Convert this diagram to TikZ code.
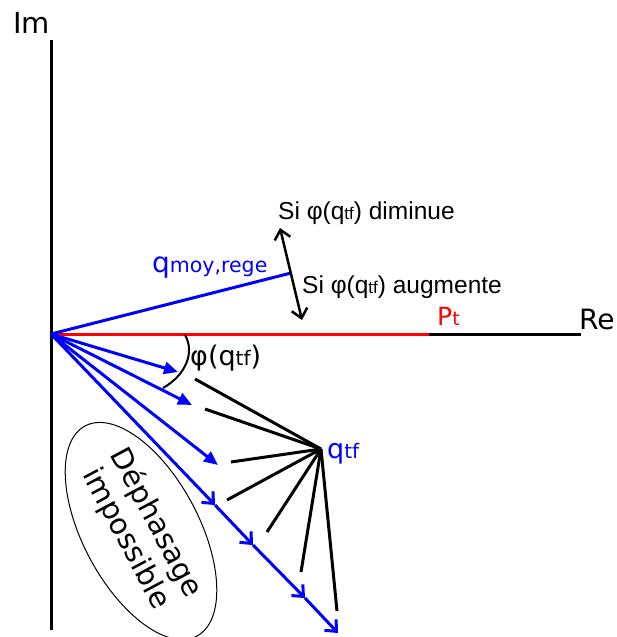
\documentclass[tikz,border=0pt]{standalone}
\usepackage{fontspec}
\setmainfont{DejaVu Sans}
\newfontfamily\arialf{Liberation Sans}
\usetikzlibrary{arrows.meta,shapes.geometric}
\newcommand{\fs}[1]{\fontsize{#1}{#1}\selectfont}
\begin{document}
\begin{tikzpicture}[x=1pt,y=-1pt,
  axisline/.style={line width=3pt},
  vec/.style={blue,line width=3pt},
  filltip/.style={-{Triangle[length=14pt,width=12pt]}},
  barbtip/.style={-{Straight Barb[length=9pt,width=16pt]}},
  proj/.style={black,line width=3pt},
  lbl/.style={inner sep=0pt,anchor=base west},
]
\useasboundingbox (0,0) rectangle (617,637);
% points
\coordinate (O) at (51,334);
\coordinate (ImTop) at (51,40);
\coordinate (ImBot) at (51,630);
\coordinate (PtEnd) at (429,334);
\coordinate (ReEnd) at (581,334);
\coordinate (Qm) at (291,273);
\coordinate (t1) at (178,372);
\coordinate (t2) at (192,405);
\coordinate (t3) at (218,465);
\coordinate (a1) at (215,505);
\coordinate (a2) at (253,545);
\coordinate (a3) at (305,598);
\coordinate (a4) at (338,633);
\coordinate (Q) at (321,449);
\coordinate (b1) at (195,379);
\coordinate (b2) at (205,409);
\coordinate (b3) at (231,462);
\coordinate (b4) at (227,500);
\coordinate (b5) at (267,532);
\coordinate (b6) at (301,572);
\coordinate (b7) at (337,611);
\coordinate (dA) at (280,228);
\coordinate (dB) at (302,320);
% axes
\draw[axisline] (ImTop) -- (ImBot);
\draw[axisline] (PtEnd) -- (ReEnd);
\draw[axisline,red] (O) -- (PtEnd);
% q moy,rege
\draw[vec] (O) -- (Qm);
% double arrow
\draw[black,line width=2.5pt,{Straight Barb[length=9pt,width=16pt]}-{Straight Barb[length=9pt,width=16pt]}] (dA) -- (dB);
% blue vectors
\draw[vec,filltip] (O) -- (t1);
\draw[vec,filltip] (O) -- (t2);
\draw[vec,filltip] (O) -- (t3);
\draw[vec,barbtip] (O) -- (a1);
\draw[vec,barbtip] (a1) -- (a2);
\draw[vec,barbtip] (a2) -- (a3);
\draw[vec,barbtip] (a3) -- (a4);
% black projections
\foreach \b in {b1,b2,b3,b4,b5,b6,b7} \draw[proj] (Q) -- (\b);
% angle arc
\draw[line width=2pt] (185,335) .. controls (195,352) and (186,375) .. (163,388);
% labels
\node[lbl] (im) at (13,33) {\fs{29}Im};
\node[lbl] (re) at (579,329) {\fs{28}Re};
\node[lbl,red] (pt) at (437,325) {\fs{25}P{\fs{19}t}};
\node[lbl,blue] (qmoy) at (152,272) {\fs{28}q{\fs{20.5}moy,rege}};
\node[lbl,blue] (qtf) at (327,458) {\fs{27}q{\fs{20}tf}};
\node[lbl] (phi) at (190,365) {\fs{27}φ(q{\fs{20}tf})};
\node[lbl] (dim) at (278,219) {\arialf\fs{24.5}Si φ(q{\fs{17}tf}) diminue};
\node[lbl] (aug) at (302,293) {\arialf\fs{24.5}Si φ(q{\fs{17}tf}) augmente};
\node[draw,ellipse,line width=1pt,rotate=-62,minimum width=238pt,minimum height=116pt,inner sep=0pt,align=center,font=\fontsize{29}{34}\selectfont] (dep) at (141,531) {Déphasage\\impossible};
\end{tikzpicture}
\end{document}
